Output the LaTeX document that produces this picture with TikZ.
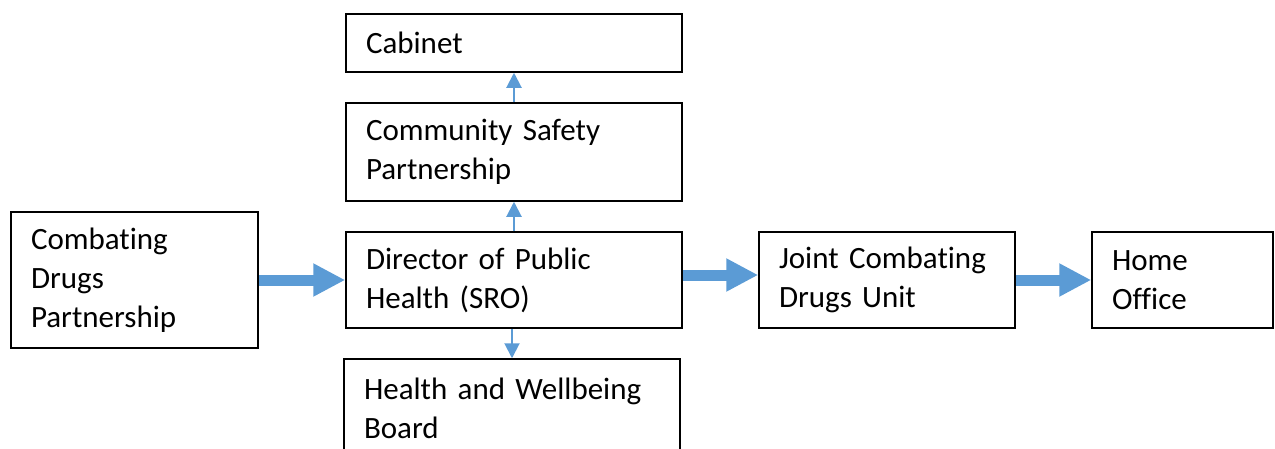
\documentclass[tikz,border=0pt]{standalone}
\usepackage{fontspec}
\setmainfont{Carlito}[Ligatures=NoCommon,WordSpace=0.7]
\usetikzlibrary{arrows.meta}
\definecolor{arrblue}{HTML}{5B9BD5}
\begin{document}
\begin{tikzpicture}[x=1pt,y=-1pt,
  font=\fontsize{31}{39}\selectfont,
  box/.style={draw,line width=1.5pt,align=left,inner xsep=20pt,inner ysep=0pt,anchor=center},
  bigarr/.style={arrblue,line width=11pt,-{Triangle[width=31pt,length=32pt]}},
  smallarr/.style={arrblue,line width=2pt,-{Triangle[width=15pt,length=15pt]}}]
\useasboundingbox (0,0) rectangle (1275,448);
\node[box,minimum width=336pt,minimum height=58pt,text width=296pt](cab)at(514,43){Cabinet};
\node[box,minimum width=336pt,minimum height=98pt,text width=296pt](csp)at(514,152){Community Safety\\Partnership};
\node[box,minimum width=336pt,minimum height=96pt,text width=296pt](dph)at(514,280){Director of Public\\Health (SRO)};
\node[box,minimum width=336pt,minimum height=98pt,text width=296pt](hwb)at(512,408){Health and Wellbeing\\Board};
\node[box,minimum width=247pt,minimum height=136pt,text width=207pt](cdp)at(134.5,280){Combating\\Drugs\\Partnership};
\node[box,minimum width=256pt,minimum height=96pt,text width=216pt](jcdu)at(887,280){Joint Combating\\Drugs Unit};
\node[box,minimum width=181pt,minimum height=96pt,text width=141pt](ho)at(1182.5,280){Home\\Office};
\draw[smallarr](csp.north)--(cab.south);
\draw[smallarr](dph.north)--(csp.south);
\draw[smallarr](hwb.north|-dph.south)--(hwb.north);
\draw[bigarr](cdp.east)--(dph.west);
\draw[bigarr]([yshift=5pt]dph.east)--([yshift=5pt]jcdu.west);
\draw[bigarr](jcdu.east)--(ho.west);
\end{tikzpicture}
\end{document}
